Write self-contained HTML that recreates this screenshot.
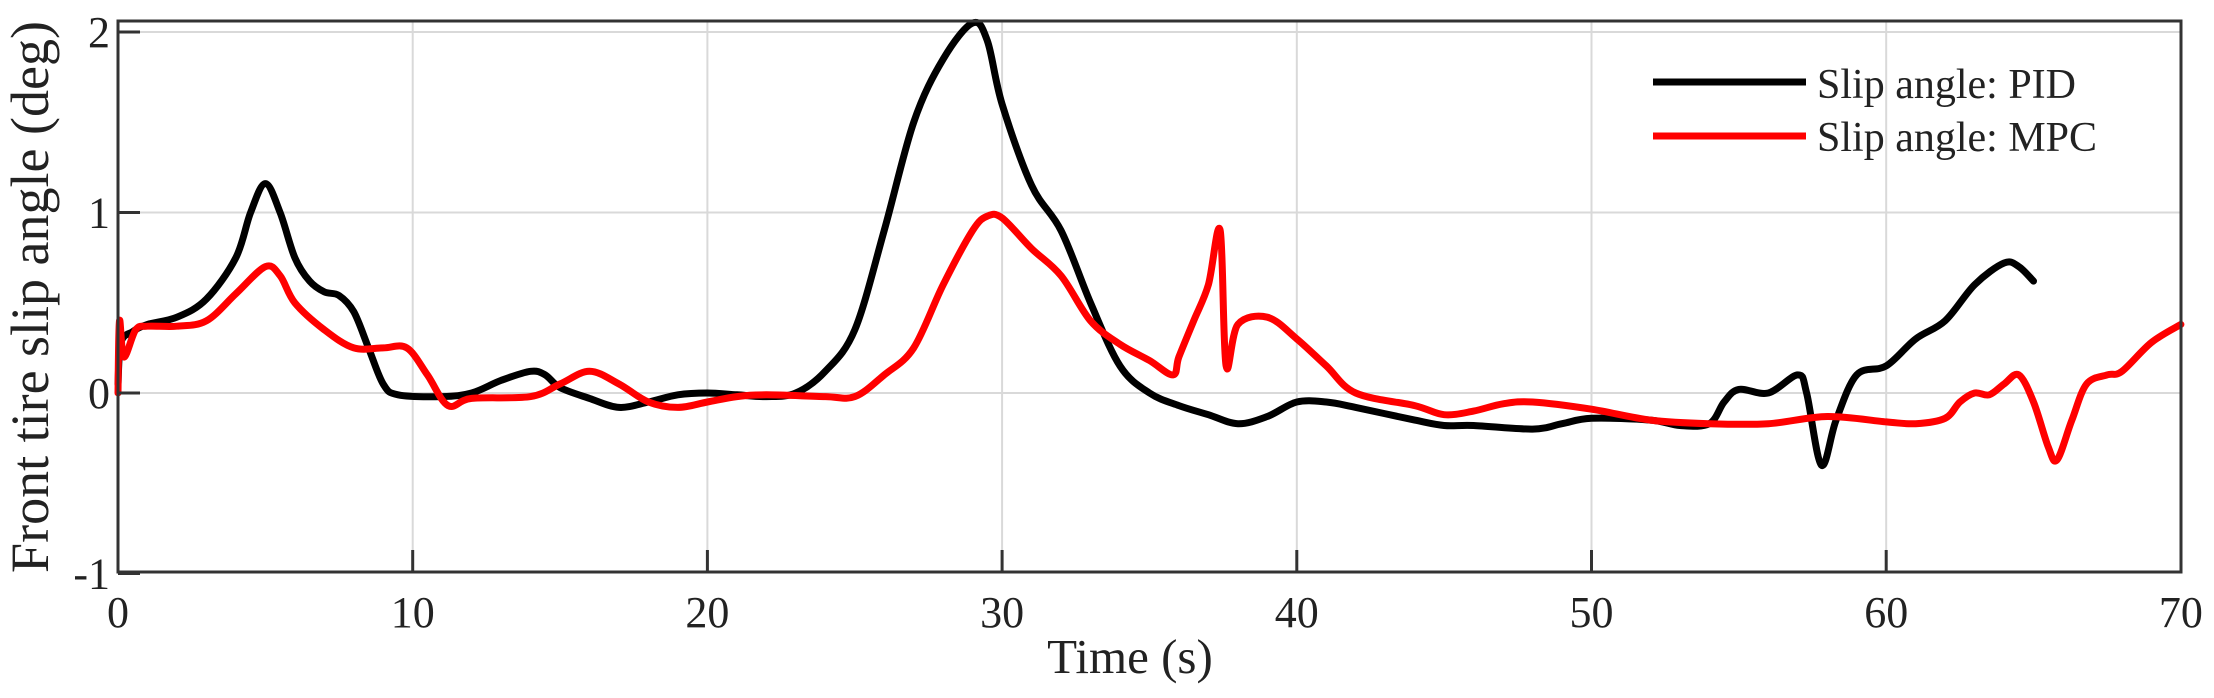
<!DOCTYPE html>
<html><head><meta charset="utf-8"><style>
html,body{margin:0;padding:0;background:#fff;}
svg{display:block;}
text{font-family:"Liberation Serif",serif;fill:#222;}
</style></head><body>
<svg id="s" width="2214" height="698" viewBox="0 0 2214 698" xmlns="http://www.w3.org/2000/svg">
<rect x="0" y="0" width="2214" height="698" fill="#fff"/>
<g id="grid" stroke="#d9d9d9" stroke-width="2"></g>
<g id="series" fill="none" stroke-width="7" stroke-linejoin="round" stroke-linecap="round"></g>
<rect x="118" y="21" width="2063" height="551" fill="none" stroke="#333" stroke-width="3"/>
<g id="ticks" stroke="#333" stroke-width="3"></g>
<g font-size="44" text-anchor="end" id="ylab"></g>
<g font-size="44" text-anchor="middle" id="xlab"></g>
<text x="1130" y="673" font-size="49" text-anchor="middle">Time (s)</text>
<text transform="translate(48,297) rotate(-90)" font-size="54" text-anchor="middle">Front tire slip angle (deg)</text>
<line x1="1653" y1="82" x2="1806" y2="82" stroke="#000" stroke-width="7"/>
<line x1="1653" y1="136" x2="1806" y2="136" stroke="#f00" stroke-width="7"/>
<text x="1817" y="98" font-size="42">Slip angle: PID</text>
<text x="1817" y="151" font-size="42">Slip angle: MPC</text>
</svg>
<script>
var NS="http://www.w3.org/2000/svg";
function X(t){return 118+t*29.47;} function Y(v){return 393-v*180.5;}
var g=document.getElementById('grid'),tk=document.getElementById('ticks'),yl=document.getElementById('ylab'),xl=document.getElementById('xlab');
function el(p,n,a,txt){var e=document.createElementNS(NS,n);for(var k in a)e.setAttribute(k,a[k]);if(txt!=null)e.textContent=txt;p.appendChild(e);return e;}
for(var t=10;t<70;t+=10)el(g,'line',{x1:X(t),y1:21,x2:X(t),y2:572});
for(var v=-1;v<=2;v++){if(v>-1)el(g,'line',{x1:118,y1:Y(v),x2:2181,y2:Y(v)});
 el(tk,'line',{x1:118,y1:Y(v),x2:140,y2:Y(v)});
 el(yl,'text',{x:110,y:Y(v)+15},String(v));}
for(var t=0;t<=70;t+=10){el(xl,'text',{x:X(t),y:627},String(t));
 if(t>0&&t<70)el(tk,'line',{x1:X(t),y1:572,x2:X(t),y2:550});}
var pid=[[0,0.05],[0.1,0.28],[0.5,0.34],[1,0.38],[2,0.42],[3,0.52],[4,0.75],[4.5,1.0],[5,1.16],[5.5,1.0],[6,0.75],[6.5,0.62],[7,0.56],[7.5,0.54],[8,0.45],[8.5,0.25],[9,0.05],[9.5,-0.01],[11,-0.02],[12,0.0],[13,0.07],[14,0.12],[14.5,0.1],[15,0.03],[16,-0.03],[17,-0.08],[18,-0.05],[19,-0.01],[20,0],[21,-0.01],[22,-0.02],[23,0.0],[24,0.12],[25,0.35],[26,0.9],[27,1.5],[28,1.85],[29,2.05],[29.5,1.95],[30,1.6],[31,1.15],[32,0.9],[33,0.5],[34,0.15],[35,0.0],[36,-0.07],[37,-0.12],[38,-0.17],[39,-0.13],[40,-0.05],[41,-0.05],[42,-0.08],[44,-0.15],[45,-0.18],[46,-0.18],[48,-0.2],[49,-0.17],[50,-0.14],[52,-0.15],[53,-0.18],[54,-0.17],[54.5,-0.05],[55,0.02],[56,0.0],[57,0.1],[57.3,0.0],[57.8,-0.4],[58.3,-0.15],[59,0.1],[60,0.15],[61,0.3],[62,0.4],[63,0.6],[64,0.72],[64.5,0.7],[65,0.62]];
var mpc=[[0,0],[0.05,0.4],[0.2,0.2],[0.6,0.35],[1,0.37],[2,0.37],[3,0.4],[4,0.55],[5,0.7],[5.5,0.65],[6,0.5],[7,0.35],[8,0.25],[9,0.25],[9.8,0.25],[10.5,0.1],[11.2,-0.07],[12,-0.03],[14,-0.02],[15,0.05],[16,0.12],[17,0.05],[18,-0.05],[19,-0.08],[20,-0.05],[21,-0.02],[22,-0.01],[24,-0.02],[25,-0.02],[26,0.1],[27,0.25],[28,0.6],[29,0.9],[29.5,0.98],[30,0.97],[31,0.8],[32,0.65],[33,0.4],[34,0.27],[35,0.18],[35.8,0.1],[36,0.2],[36.5,0.4],[37,0.6],[37.4,0.9],[37.6,0.15],[38,0.38],[39,0.42],[40,0.3],[41,0.15],[42,0.0],[44,-0.07],[45,-0.12],[46,-0.1],[47,-0.06],[48,-0.05],[50,-0.09],[52,-0.15],[54,-0.17],[56,-0.17],[58,-0.13],[60,-0.16],[61,-0.17],[62,-0.14],[62.5,-0.05],[63,0.0],[63.5,-0.01],[64,0.05],[64.5,0.1],[65,-0.05],[65.5,-0.3],[65.8,-0.37],[66.3,-0.15],[66.8,0.05],[67.5,0.1],[68,0.12],[69,0.28],[70,0.38]];
function path(d){var p=d.map(function(a){return [X(a[0]),Y(a[1])];});var s='M'+p[0][0]+' '+p[0][1];
 for(var i=0;i<p.length-1;i++){var p0=p[Math.max(0,i-1)],p1=p[i],p2=p[i+1],p3=p[Math.min(p.length-1,i+2)];
 var c1=[p1[0]+(p2[0]-p0[0])/6,p1[1]+(p2[1]-p0[1])/6],c2=[p2[0]-(p3[0]-p1[0])/6,p2[1]-(p3[1]-p1[1])/6];
 s+=' C'+c1[0].toFixed(1)+' '+c1[1].toFixed(1)+' '+c2[0].toFixed(1)+' '+c2[1].toFixed(1)+' '+p2[0].toFixed(1)+' '+p2[1].toFixed(1);}return s;}
var sr=document.getElementById('series');
el(sr,'path',{d:path(pid),stroke:'#000'});
el(sr,'path',{d:path(mpc),stroke:'#f00'});
</script>
</body></html>
